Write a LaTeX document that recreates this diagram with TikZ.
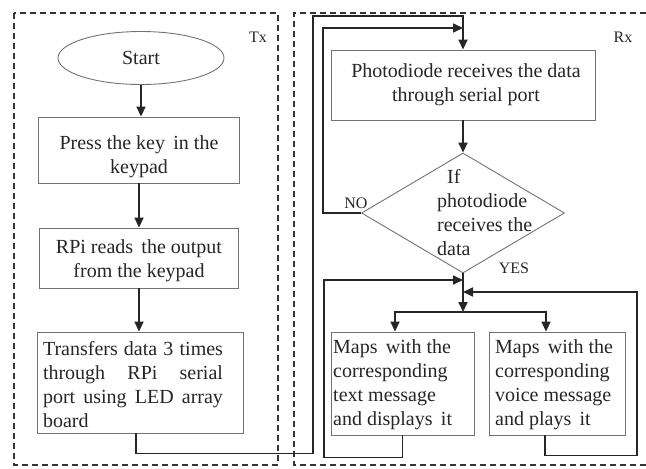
\documentclass[tikz,border=0pt]{standalone}
\usepackage{fontspec}
\setmainfont{Liberation Serif}
\usetikzlibrary{shapes.geometric,arrows.meta}
\begin{document}
\begin{tikzpicture}[x=1pt,y=-1pt,
  box/.style={draw=black!55,line width=0.9pt,inner sep=0pt,rectangle},
  txt/.style={inner sep=0pt,font=\fontsize{20}{24}\selectfont,text=black!85},
  lbl/.style={inner sep=0pt,font=\fontsize{16}{19}\selectfont,text=black!85},
  conn/.style={draw=black!85,line width=1.7pt},
  arr/.style={conn,-{Triangle[length=10pt,width=9pt]}},
  biarr/.style={conn,{Triangle[length=10pt,width=9pt]}-{Triangle[length=10pt,width=9pt]}},
  framebox/.style={draw=black!80,line width=1.5pt,dash pattern=on 6pt off 4pt}]
\useasboundingbox (0,0) rectangle (646,469);
\fill[white] (0,0) rectangle (646,469);
% frames
\draw[framebox] (14,13) rectangle (278,465);
\draw[framebox] (646,13) -- (294,13) -- (294,465) -- (646,465);
\node[lbl] (tx) at (258,37) {Tx};
\node[lbl] (rx) at (623,37) {Rx};
% left column
\node[box,ellipse,minimum width=166pt,minimum height=53pt,txt] (start) at (141,58) {Start};
\node[box,minimum width=201pt,minimum height=66pt] (press) at (139,150) {};
\node[txt,align=center] (presst) at (139,157) {Press the key\, in the\\keypad};
\node[box,minimum width=199pt,minimum height=60pt] (read) at (139,258) {};
\node[txt,align=center] (readt) at (139,261) {RPi reads\, the output\\from the keypad};
\node[box,minimum width=206pt,minimum height=101pt] (trans) at (140,382.5) {};
\node[txt,align=left] (transt) at (133,385) {\makebox[180pt][s]{Transfers data 3 times}\\\makebox[180pt][s]{through RPi serial}\\\makebox[180pt][s]{port using LED array}\\board};
% right column
\node[box,minimum width=264pt,minimum height=70pt] (photo) at (463,85) {};
\node[txt,align=center] (photot) at (466,85) {Photodiode receives the data\\through serial port};
\node[box,diamond,minimum width=203pt,minimum height=120pt] (dec) at (463,213) {};
\node[txt,align=left,anchor=west] (dect) at (437,213) {\hspace*{10pt}If\\photodiode\\receives the\\data};
\node[lbl] (no) at (356,203) {NO};
\node[lbl] (yes) at (514,268) {YES};
\node[box,minimum width=143pt,minimum height=103pt] (btext) at (402.5,383.5) {};
\node[txt,align=left,anchor=west] (btextt) at (333,385) {Maps\, with the\\corresponding\\text message\\and displays\, it};
\node[box,minimum width=136pt,minimum height=103pt] (bvoice) at (557,383.5) {};
\node[txt,align=left,anchor=west] (bvoicet) at (495,385) {Maps\, with the\\corresponding\\voice message\\and plays\, it};
% connectors
\draw[arr] (start.south) -- (start.south |- press.north);
\draw[arr] (press.south) -- (press.south |- read.north);
\draw[arr] (read.south) -- (read.south |- trans.north);
\draw[arr] ([xshift=-4pt]trans.south) -- ++(0,20) -| (313,16) -| (photo.north);
\draw[arr] (photo.south) -- (dec.north);
\draw[arr] (dec.west) -- (323,213) |- (463,28);
\coordinate (split) at (463,312);
\draw[arr] (dec.south) -- (split);
\draw[biarr] ([xshift=-7.5pt]btext.north) |- (split) -| ([xshift=-11pt]bvoice.north);
\draw[arr] (btext.south) -- ++(0,22) -| (324,280) -- (463,280);
\draw[arr] ([xshift=-12pt]bvoice.south) -- ++(0,20) -| (637,292) -- (463,292);
\end{tikzpicture}
\end{document}
